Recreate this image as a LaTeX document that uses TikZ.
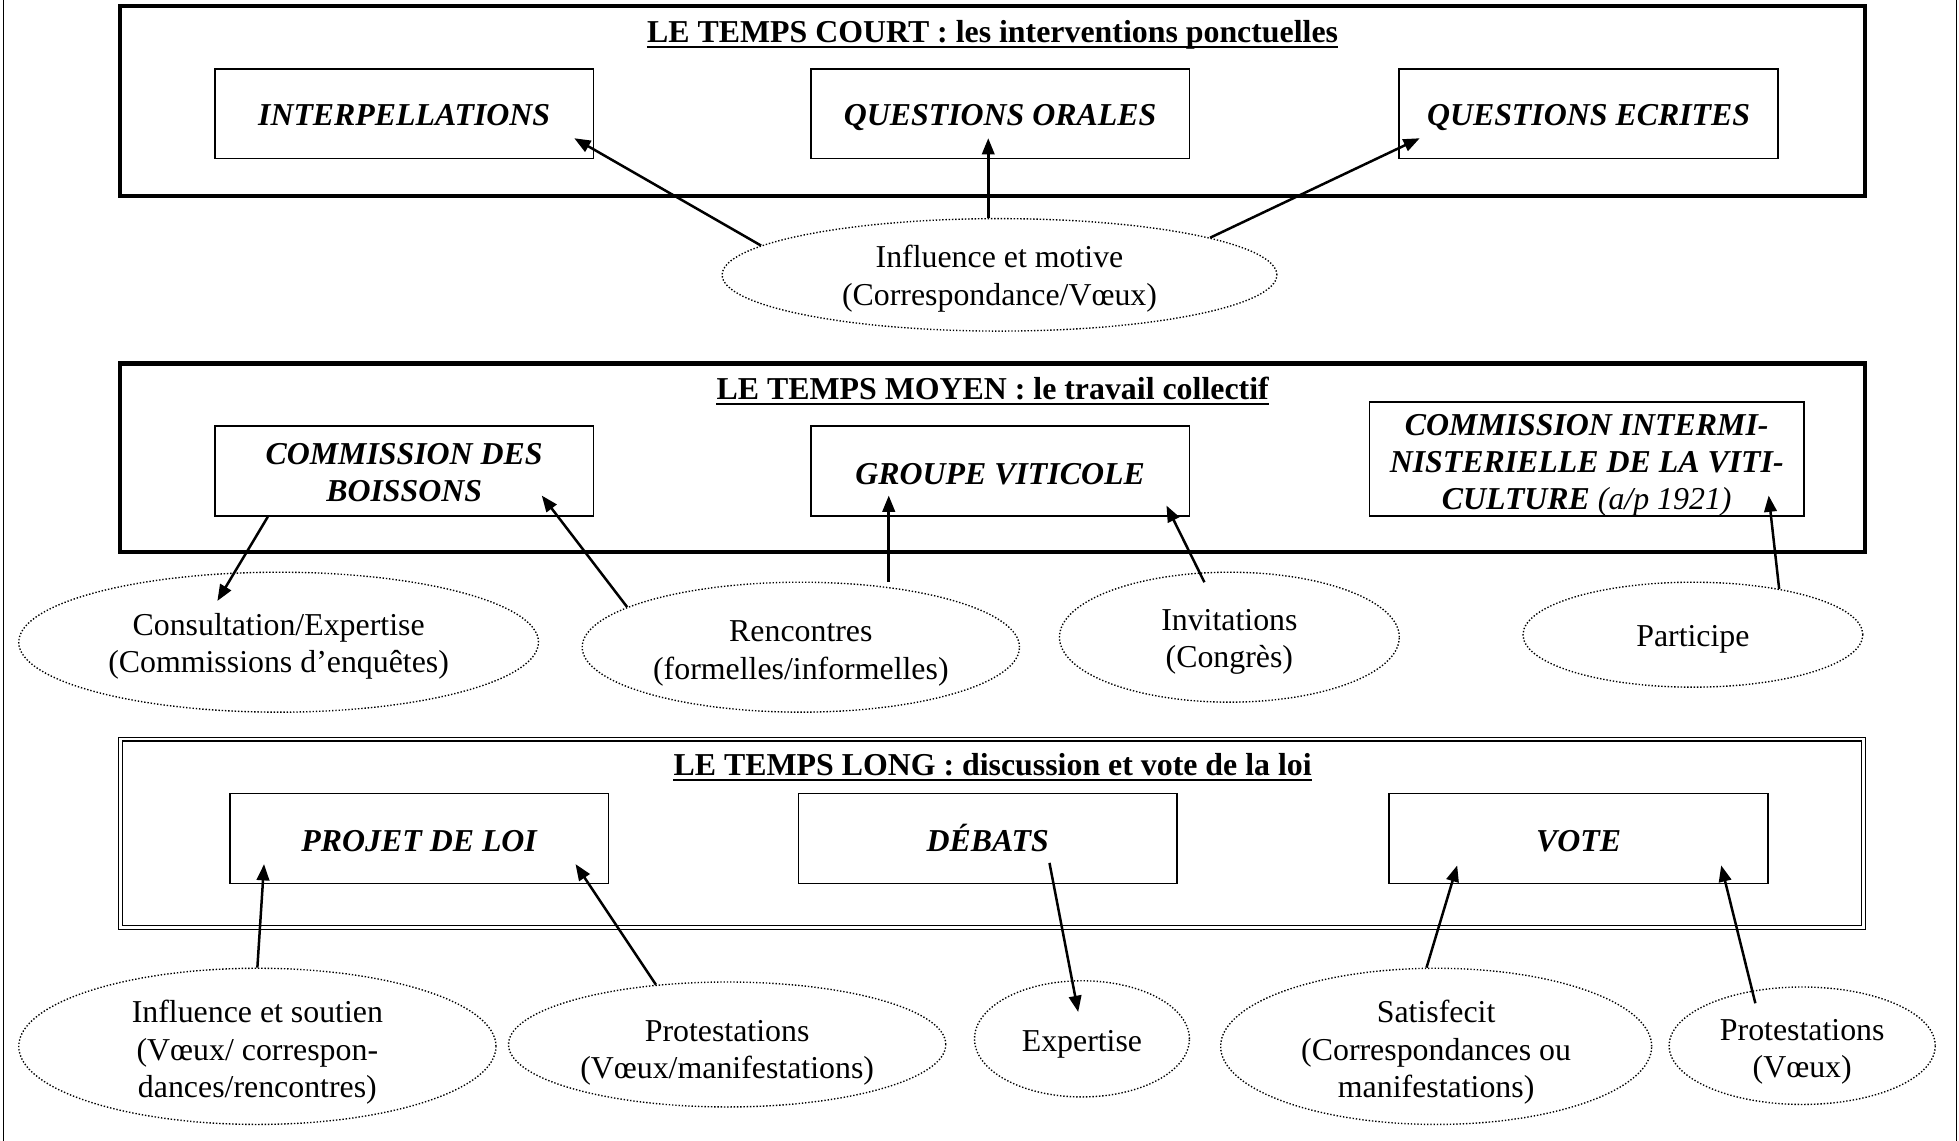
\documentclass[tikz,border=0pt]{standalone}
\usepackage{fontspec}
\setmainfont{Liberation Serif}
\usetikzlibrary{shapes.geometric,arrows.meta,calc}
\newcommand\bodyfont{\fontsize{25.5pt}{30pt}\selectfont}
\newcommand\boxfont{\fontsize{25.5pt}{29.5pt}\selectfont\bfseries\itshape}
\tikzset{
  frame/.style={draw, line width=3.4pt, minimum width=1397pt, minimum height=152pt, inner sep=0pt},
  dframe/.style={draw, line width=1pt, double, double distance=2pt, minimum width=1395pt, minimum height=151pt, inner sep=0pt},
  ttl/.style={anchor=base, inner sep=0pt, font=\bodyfont\bfseries},
  inbox/.style={draw, line width=1.3pt, minimum width=303pt, minimum height=72pt, inner sep=0pt, align=center, font=\boxfont},
  ell/.style={ellipse, draw, line width=1.1pt, dash pattern=on 1.1pt off 1.5pt, inner sep=0pt, align=center, font=\bodyfont},
  arr/.style={-{Triangle[length=13pt,width=10pt]}, line width=2pt},
  uline/.style={line width=1.8pt},
  th/.style={text height=#1, text depth=0pt},
}
\begin{document}
\begin{tikzpicture}[x=1pt,y=-1pt]
\useasboundingbox (0,0) rectangle (1568,913);
% page side rules
\coordinate (lt) at (3,0); \coordinate (lb) at (3,913);
\coordinate (rt) at (1566,0); \coordinate (rb) at (1566,913);
\draw[line width=1pt] (lt) -- (lb);
\draw[line width=1pt] (rt) -- (rb);

% ===== LE TEMPS COURT =====
\node[frame] (f1) at (794.5,81) {};
\node[ttl] (t1) at (794.5,34) {LE TEMPS COURT : les interventions ponctuelles};
\draw[uline] ([yshift=-3.5pt]t1.base west) -- ([yshift=-3.5pt]t1.base east);
\node[inbox, th=19pt] (b11) at (323.5,91) {INTERPELLATIONS};
\node[inbox, th=19pt] (b12) at (800.5,91) {QUESTIONS ORALES};
\node[inbox, th=19pt] (b13) at (1271.5,91) {QUESTIONS ECRITES};
\node[ell, th=49pt, minimum width=444pt, minimum height=90pt] (e1) at (800,220) {Influence et motive\\(Correspondance/Vœux)};
\coordinate (t11) at ($(b11.south east)+(-16,-17)$);
\coordinate (t12) at ($(b12.south)+(-9.5,-17)$);
\coordinate (t13) at ($(b13.south west)+(17,-17)$);
\draw[arr] (e1.173) -- (t11);
\draw[arr] (e1.north -| t12) -- (t12);
\draw[arr] (e1.10) -- (t13);

% ===== LE TEMPS MOYEN =====
\node[frame, minimum height=151pt] (f2) at (794.5,366.5) {};
\node[ttl] (t2) at (794.5,320) {LE TEMPS MOYEN : le travail collectif};
\draw[uline] ([yshift=-3.5pt]t2.base west) -- ([yshift=-3.5pt]t2.base east);
\node[inbox, th=49pt] (b21) at (323.5,377) {COMMISSION DES\\BOISSONS};
\node[inbox, th=21pt] (b22) at (800.5,377) {GROUPE VITICOLE};
\node[inbox, th=80pt, minimum width=348pt, minimum height=91pt] (b23) at (1270,367.5)
  {COMMISSION INTERMI-\\NISTERIELLE DE LA VITI-\\CULTURE {\mdseries(a/p 1921)}};
\node[ell, th=49pt, minimum width=416pt, minimum height=112pt] (e21) at (223,514) {Consultation/Expertise\\(Commissions d’enquêtes)};
\node[ell, th=51pt, minimum width=350pt, minimum height=104pt] (e22) at (641,518) {Rencontres\\(formelles/informelles)};
\node[ell, th=49pt, minimum width=272pt, minimum height=104pt] (e23) at (984,510) {Invitations\\(Congrès)};
\node[ell, th=19pt, minimum width=272pt, minimum height=84pt] (e24) at (1355,508) {Participe};
\coordinate (s21) at ($(b21.south west)+(43,0)$);
\coordinate (t21) at ($(e21.center)+(-49,-33)$);
\coordinate (t21b) at ($(b21.south east)+(-42,-17)$);
\coordinate (t22) at ($(b22.south west)+(63,-17)$);
\coordinate (s23) at ($(e23.center)+(-20,-44)$);
\coordinate (t22b) at ($(b22.south east)+(-19,-9)$);
\coordinate (t23) at ($(b23.south east)+(-29,-17)$);
\draw[arr] (s21) -- (t21);
\draw[arr] (e22.167) -- (t21b);
\draw[arr] (t22 |- e22.north) -- (t22);
\draw[arr] (s23) -- (t22b);
\draw[arr] (e24.28.6) -- (t23);

% ===== LE TEMPS LONG =====
\node[dframe] (f3) at (794,667) {};
\node[ttl] (t3) at (794.5,621) {LE TEMPS LONG : discussion et vote de la loi};
\draw[uline] ([yshift=-3.5pt]t3.base west) -- ([yshift=-3.5pt]t3.base east);
\node[inbox, th=21pt] (b31) at (335.5,671) {PROJET DE LOI};
\node[inbox, th=21pt] (b32) at (790.5,671) {DÉBATS};
\node[inbox, th=21pt] (b33) at (1263.5,671) {VOTE};
\node[ell, th=82pt, minimum width=382pt, minimum height=125pt] (e31) at (206,837.5) {Influence et soutien\\(Vœux/ correspon-\\dances/rencontres)};
\node[ell, th=55pt, minimum width=350pt, minimum height=100pt] (e32) at (582,836) {Protestations\\(Vœux/manifestations)};
\node[ell, th=20pt, minimum width=172pt, minimum height=93pt] (e33) at (866,831.5) {Expertise};
\node[ell, th=82pt, minimum width=345pt, minimum height=125pt] (e34) at (1149.5,837.5) {Satisfecit\\(Correspondances ou\\manifestations)};
\node[ell, th=51pt, minimum width=213pt, minimum height=94pt] (e35) at (1442.5,837) {Protestations\\(Vœux)};
\coordinate (t31) at ($(b31.south west)+(28,-16)$);
\coordinate (t31b) at ($(b31.south east)+(-27,-16)$);
\coordinate (s32) at ($(b32.south)+(49.5,-17)$);
\coordinate (t33) at ($(e33.center)+(-3,-21.5)$);
\coordinate (t34) at ($(b33.south west)+(55,-15)$);
\coordinate (s35) at ($(e35.center)+(-37.5,-34)$);
\coordinate (t35) at ($(b33.south east)+(-38,-15)$);
\draw[arr] (e31.north) -- (t31);
\draw[arr] (e32.140) -- (t31b);
\draw[arr] (s32) -- (t33);
\draw[arr] (e34.97) -- (t34);
\draw[arr] (s35) -- (t35);
\end{tikzpicture}
\end{document}
